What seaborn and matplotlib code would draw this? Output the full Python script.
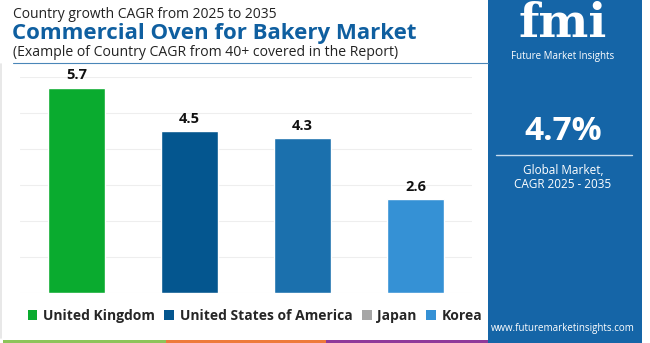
import matplotlib
matplotlib.use("Agg")
import matplotlib.pyplot as plt
import seaborn as sns
import pandas as pd
from matplotlib.patches import Patch, Rectangle
from matplotlib.lines import Line2D

countries = ["United Kingdom", "United States of America", "Japan", "Korea"]
cagr = [5.7, 4.5, 4.3, 2.6]
bar_colors = ["#0aab2f", "#04568f", "#1b70ad", "#3591d5"]
legend_colors = ["#0aab2f", "#04568f", "#a6a6a6", "#3591d5"]
global_cagr = "4.7%"

sns.set_theme(style="white")
plt.rcParams['font.family'] = ['Open Sans', 'DejaVu Sans']

W, H = 650, 343
fig = plt.figure(figsize=(6.5, 3.43), dpi=100)
fig.patch.set_facecolor("white")

def fx(px): return px / W
def fy(py): return 1 - py / H

ax = fig.add_axes([fx(20), fy(293), fx(472) - fx(20), fy(77) - fy(293)])
df = pd.DataFrame({"country": countries, "cagr": cagr})
sns.barplot(data=df, x="country", y="cagr", hue="country", palette=bar_colors,
            width=0.5, ax=ax, legend=False, saturation=1)
ax.set_xlim(-0.5, 3.5)
ax.set_ylim(0, 6)
ax.set_yticks(range(0, 7))
ax.yaxis.grid(True, color="#eeeeee", lw=0.8)
ax.set_axisbelow(True)
ax.set_xticks([])
ax.set_yticklabels([])
ax.tick_params(left=False, bottom=False)
ax.set_xlabel("")
ax.set_ylabel("")
for s in ax.spines.values():
    s.set_visible(False)
for i, v in enumerate(cagr):
    ax.text(i, v + 0.15, f"{v}", ha="center", va="bottom", fontsize=10.5,
            fontweight="bold", color="#111111")

# titles
fig.text(fx(13), fy(15), "Country growth CAGR from 2025 to 2035", fontsize=10,
         color="#222222", va="center", ha="left")
fig.text(fx(12), fy(34), "Commercial Oven for Bakery Market", fontsize=16,
         fontweight="bold", color="#0f5fa0", va="center", ha="left")
fig.text(fx(13), fy(53), "(Example of Country CAGR from 40+ covered in the Report)",
         fontsize=10.1, color="#222222", va="center", ha="left")
fig.add_artist(Line2D([fx(13), fx(488)], [fy(63), fy(63)], color="#4a86b8", lw=0.8))
fig.add_artist(Line2D([fx(1), fx(1)], [fy(64), fy(338)], color="#e4e4e4", lw=1.2))

# legend
handles = [Patch(facecolor=c, edgecolor="none", label=n) for c, n in zip(legend_colors, countries)]
leg = fig.legend(handles=handles, loc="center", bbox_to_anchor=(fx(255), fy(316)),
                 ncol=4, frameon=False, handlelength=0.7, handleheight=0.7,
                 handletextpad=0.4, columnspacing=0.7,
                 prop={"weight": "bold", "size": 10})

# bottom color strips
fig.add_artist(Rectangle((fx(3), 0), fx(166) - fx(3), 3 / H, color="#8dc45a", lw=0))
fig.add_artist(Rectangle((fx(166), 0), fx(326) - fx(166), 3 / H, color="#ee7a3b", lw=0))
fig.add_artist(Rectangle((fx(326), 0), fx(488) - fx(326), 3 / H, color="#8f3a9a", lw=0))

# right panel
fig.add_artist(Rectangle((fx(488), 0), fx(642) - fx(488), 1, color="#1565a7", lw=0))
fig.text(fx(563), fy(24), "fmi", fontsize=34, fontweight="bold", color="white",
         ha="center", va="center", family=["DejaVu Serif"])
fig.text(fx(563), fy(56), "Future Market Insights", fontsize=7, color="white",
         ha="center", va="center")
fig.text(fx(563), fy(131), global_cagr, fontsize=24, fontweight="bold", color="white",
         ha="center", va="center")
fig.add_artist(Line2D([fx(496), fx(632)], [fy(155), fy(155)], color="#c8dcee", lw=1))
fig.text(fx(563), fy(170), "Global Market,", fontsize=8.5, color="white",
         ha="center", va="center")
fig.text(fx(563), fy(184), "CAGR 2025 - 2035", fontsize=8.5, color="white",
         ha="center", va="center")
fig.text(fx(563), fy(328), "www.futuremarketinsights.com", fontsize=7, color="white",
         ha="center", va="center")

fig.savefig("out.png", dpi=100, facecolor="white")
